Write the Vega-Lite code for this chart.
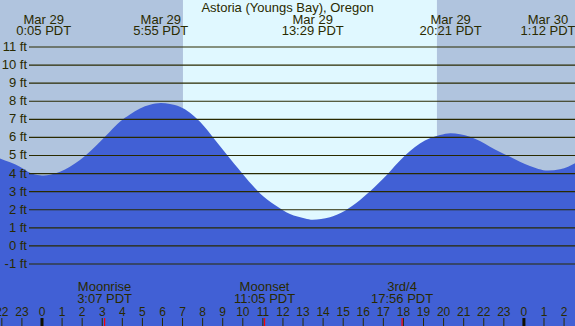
{
  "$schema": "https://vega.github.io/schema/vega-lite/v6.json",
  "width": 575,
  "height": 326,
  "autosize": "none",
  "padding": 0,
  "background": "#B0C4DE",
  "config": {"view": {"stroke": null}, "text": {"font": "Liberation Sans"}, "title": {"font": "Liberation Sans"}},
  "title": {"text": "Astoria (Youngs Bay), Oregon", "fontSize": 13, "fontWeight": "normal", "color": "#2a2a00", "anchor": "middle", "frame": "group", "offset": -15},
  "datasets": {
    "bg": [
      {"start": -2.0916, "end": 7.02, "kind": "night"},
      {"start": 7.02, "end": 19.67, "kind": "day"},
      {"start": 19.67, "end": 26.544, "kind": "night"}
    ],
    "tide": [
      {"h": -2.0916, "ft": 4.84}, {"h": -1.59, "ft": 4.62}, {"h": -1.1, "ft": 4.38}, {"h": -0.6, "ft": 4.05},
      {"h": -0.1, "ft": 3.91}, {"h": 0.083, "ft": 3.9}, {"h": 0.4, "ft": 3.93}, {"h": 0.9, "ft": 4.1},
      {"h": 1.39, "ft": 4.38}, {"h": 1.89, "ft": 4.75}, {"h": 2.39, "ft": 5.22}, {"h": 2.89, "ft": 5.76},
      {"h": 3.38, "ft": 6.32}, {"h": 3.88, "ft": 6.87}, {"h": 4.38, "ft": 7.27}, {"h": 4.88, "ft": 7.6},
      {"h": 5.38, "ft": 7.8}, {"h": 5.92, "ft": 7.9}, {"h": 6.37, "ft": 7.85}, {"h": 6.87, "ft": 7.7},
      {"h": 7.37, "ft": 7.37}, {"h": 7.87, "ft": 6.87}, {"h": 8.25, "ft": 6.38}, {"h": 8.62, "ft": 5.86},
      {"h": 9.0, "ft": 5.33}, {"h": 9.36, "ft": 4.84}, {"h": 9.74, "ft": 4.32}, {"h": 10.11, "ft": 3.83},
      {"h": 10.48, "ft": 3.35}, {"h": 10.86, "ft": 2.9}, {"h": 11.23, "ft": 2.55}, {"h": 11.6, "ft": 2.26},
      {"h": 11.98, "ft": 1.98}, {"h": 12.35, "ft": 1.76}, {"h": 12.72, "ft": 1.62}, {"h": 13.1, "ft": 1.52},
      {"h": 13.48, "ft": 1.45}, {"h": 13.9, "ft": 1.49}, {"h": 14.34, "ft": 1.58}, {"h": 14.71, "ft": 1.74},
      {"h": 15.09, "ft": 1.95}, {"h": 15.46, "ft": 2.22}, {"h": 15.84, "ft": 2.54}, {"h": 16.21, "ft": 2.9},
      {"h": 16.58, "ft": 3.27}, {"h": 16.96, "ft": 3.68}, {"h": 17.33, "ft": 4.12}, {"h": 17.83, "ft": 4.72},
      {"h": 18.33, "ft": 5.25}, {"h": 18.82, "ft": 5.67}, {"h": 19.32, "ft": 5.95}, {"h": 19.82, "ft": 6.13},
      {"h": 20.35, "ft": 6.23}, {"h": 20.82, "ft": 6.17}, {"h": 21.31, "ft": 6.04}, {"h": 21.81, "ft": 5.8},
      {"h": 22.31, "ft": 5.49}, {"h": 22.81, "ft": 5.2}, {"h": 23.31, "ft": 4.93}, {"h": 23.8, "ft": 4.66},
      {"h": 24.3, "ft": 4.42}, {"h": 24.72, "ft": 4.26}, {"h": 25.2, "ft": 4.17}, {"h": 25.8, "ft": 4.24},
      {"h": 26.2, "ft": 4.38}, {"h": 26.544, "ft": 4.57}
    ],
    "levels": [
      {"ft": -1, "label": "-1 ft"}, {"ft": 0, "label": "0 ft"}, {"ft": 1, "label": "1 ft"}, {"ft": 2, "label": "2 ft"},
      {"ft": 3, "label": "3 ft"}, {"ft": 4, "label": "4 ft"}, {"ft": 5, "label": "5 ft"}, {"ft": 6, "label": "6 ft"},
      {"ft": 7, "label": "7 ft"}, {"ft": 8, "label": "8 ft"}, {"ft": 9, "label": "9 ft"}, {"ft": 10, "label": "10 ft"},
      {"ft": 11, "label": "11 ft"}
    ],
    "events": [
      {"h": 0.083, "date": "Mar 29", "time": "0:05 PDT"},
      {"h": 5.917, "date": "Mar 29", "time": "5:55 PDT"},
      {"h": 13.483, "date": "Mar 29", "time": "13:29 PDT"},
      {"h": 20.35, "date": "Mar 29", "time": "20:21 PDT"},
      {"h": 25.2, "date": "Mar 30", "time": "1:12 PDT"}
    ],
    "moon": [
      {"h": 3.117, "name": "Moonrise", "time": "3:07 PDT"},
      {"h": 11.083, "name": "Moonset", "time": "11:05 PDT"},
      {"h": 17.933, "name": "3rd/4", "time": "17:56 PDT"}
    ],
    "hours": [
      {"h": -2, "label": "22", "kind": "hour"}, {"h": -1, "label": "23", "kind": "hour"},
      {"h": 0, "label": "0", "kind": "midnight"}, {"h": 1, "label": "1", "kind": "hour"},
      {"h": 2, "label": "2", "kind": "hour"}, {"h": 3, "label": "3", "kind": "hour"},
      {"h": 4, "label": "4", "kind": "hour"}, {"h": 5, "label": "5", "kind": "hour"},
      {"h": 6, "label": "6", "kind": "hour"}, {"h": 7, "label": "7", "kind": "hour"},
      {"h": 8, "label": "8", "kind": "hour"}, {"h": 9, "label": "9", "kind": "hour"},
      {"h": 10, "label": "10", "kind": "hour"}, {"h": 11, "label": "11", "kind": "hour"},
      {"h": 12, "label": "12", "kind": "hour"}, {"h": 13, "label": "13", "kind": "hour"},
      {"h": 14, "label": "14", "kind": "hour"}, {"h": 15, "label": "15", "kind": "hour"},
      {"h": 16, "label": "16", "kind": "hour"}, {"h": 17, "label": "17", "kind": "hour"},
      {"h": 18, "label": "18", "kind": "hour"}, {"h": 19, "label": "19", "kind": "hour"},
      {"h": 20, "label": "20", "kind": "hour"}, {"h": 21, "label": "21", "kind": "hour"},
      {"h": 22, "label": "22", "kind": "hour"}, {"h": 23, "label": "23", "kind": "hour"},
      {"h": 24, "label": "0", "kind": "midnight"}, {"h": 25, "label": "1", "kind": "hour"},
      {"h": 26, "label": "2", "kind": "hour"}
    ]
  },
  "layer": [
    {
      "data": {"name": "bg"},
      "mark": {"type": "rect"},
      "encoding": {
        "x": {"field": "start", "type": "quantitative", "scale": {"domain": [-2.0916, 26.544], "nice": false, "zero": false}, "axis": null},
        "x2": {"field": "end"},
        "color": {"condition": {"test": "datum.kind === 'day'", "value": "#E0F8FF"}, "value": "#B0C4DE"}
      }
    },
    {
      "data": {"name": "tide"},
      "mark": {"type": "area", "interpolate": "monotone", "color": "#4160D5"},
      "encoding": {
        "x": {"field": "h", "type": "quantitative"},
        "y": {"field": "ft", "type": "quantitative", "scale": {"domain": [-4.43, 13.6], "nice": false, "zero": false}, "axis": null},
        "y2": {"datum": -4.43}
      }
    },
    {
      "data": {"name": "levels"},
      "mark": {"type": "rule", "color": "#2a2a00", "strokeWidth": 1.2},
      "encoding": {
        "y": {"field": "ft", "type": "quantitative"},
        "x": {"datum": -0.647},
        "x2": {"datum": 26.544}
      }
    },
    {
      "data": {"name": "levels"},
      "mark": {"type": "text", "align": "right", "baseline": "middle", "fontSize": 13, "color": "#2a2a00"},
      "encoding": {
        "y": {"field": "ft", "type": "quantitative"},
        "x": {"datum": -0.747},
        "text": {"field": "label"}
      }
    },
    {
      "data": {"name": "events"},
      "mark": {"type": "text", "align": "center", "baseline": "middle", "fontSize": 13, "color": "#2a2a00"},
      "encoding": {
        "x": {"field": "h", "type": "quantitative"},
        "y": {"datum": 12.52},
        "text": {"field": "date"}
      }
    },
    {
      "data": {"name": "events"},
      "mark": {"type": "text", "align": "center", "baseline": "middle", "fontSize": 13, "color": "#2a2a00"},
      "encoding": {
        "x": {"field": "h", "type": "quantitative"},
        "y": {"datum": 11.86},
        "text": {"field": "time"}
      }
    },
    {
      "data": {"name": "moon"},
      "mark": {"type": "text", "align": "center", "baseline": "middle", "fontSize": 13, "color": "#2a2a00"},
      "encoding": {
        "x": {"field": "h", "type": "quantitative"},
        "y": {"datum": -2.29},
        "text": {"field": "name"}
      }
    },
    {
      "data": {"name": "moon"},
      "mark": {"type": "text", "align": "center", "baseline": "middle", "fontSize": 13, "color": "#2a2a00"},
      "encoding": {
        "x": {"field": "h", "type": "quantitative"},
        "y": {"datum": -2.95},
        "text": {"field": "time"}
      }
    },
    {
      "data": {"name": "hours"},
      "mark": {"type": "text", "align": "center", "baseline": "middle", "fontSize": 12, "color": "#2a2a00"},
      "encoding": {
        "x": {"field": "h", "type": "quantitative"},
        "y": {"datum": -3.64},
        "text": {"field": "label"}
      }
    },
    {
      "data": {"name": "hours"},
      "mark": {"type": "rule"},
      "encoding": {
        "x": {"field": "h", "type": "quantitative"},
        "y": {"datum": -3.99},
        "y2": {"datum": -4.43},
        "color": {"condition": {"test": "datum.kind === 'midnight'", "value": "#111100"}, "value": "#2a2a00"},
        "strokeWidth": {"condition": {"test": "datum.kind === 'midnight'", "value": 3}, "value": 1}
      }
    },
    {
      "data": {"name": "moon"},
      "mark": {"type": "rule", "color": "#ff0000", "strokeWidth": 1.2},
      "encoding": {
        "x": {"field": "h", "type": "quantitative"},
        "y": {"datum": -3.99},
        "y2": {"datum": -4.43}
      }
    }
  ]
}
